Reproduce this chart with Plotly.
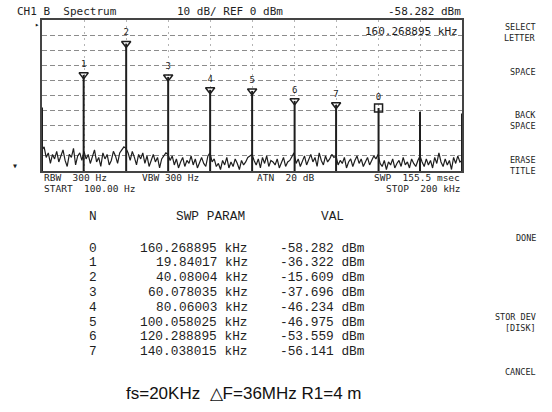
import numpy as np
import plotly.graph_objects as go

# ---- marker table (analyzer readout) ----
marker_id = [0, 1, 2, 3, 4, 5, 6, 7]
marker_khz = [160.268895, 19.84017, 40.08004, 60.078035, 80.06003,
              100.058025, 120.288895, 140.038015]
marker_dbm = [-58.282, -36.322, -15.609, -37.696, -46.234,
              -46.975, -53.559, -56.141]

# ---- unmarked spectral lines (DC, 180 kHz, 200 kHz) ----
extra_khz = [0.0, 180.0, 200.0]
extra_dbm = [-58.0, -60.7, -62.0]

# ---- noise floor of the sweep, 0..200 kHz ----
noise_dbm = [
    -86, -84, -91, -88, -95, -89, -92, -87, -94, -90, -86, -93, -97, -89, -91, -85, -96, -90, -88, -93,
    -87, -92, -89, -95, -90, -86, -94, -91, -97, -88, -92, -89, -96, -93, -87, -90, -95, -88, -86, -84,
    -85, -88, -93, -87, -91, -96, -89, -92, -88, -95, -90, -97, -93, -89, -94, -91, -98, -92, -90, -88,
    -89, -93, -90, -96, -92, -98, -94, -91, -97, -93, -95, -90, -96, -92, -98, -94, -91, -95, -97, -90,
    -88, -94, -92, -97, -95, -99, -93, -96, -91, -98, -94, -97, -92, -95, -99, -93, -96, -94, -91, -90,
    -89, -93, -96, -92, -98, -91, -95, -90, -97, -93, -94, -96, -92, -98, -95, -91, -97, -94, -93, -90,
    -88, -95, -92, -97, -94, -90, -96, -93, -89, -94, -91, -97, -88, -93, -96, -90, -94, -92, -89, -91,
    -90, -96, -93, -95, -91, -98, -94, -92, -97, -93, -90, -95, -92, -97, -94, -91, -96, -93, -90, -92,
    -89, -95, -97, -93, -99, -94, -96, -92, -98, -95, -93, -97, -91, -96, -94, -98, -92, -95, -97, -93,
    -90, -94, -97, -92, -96, -93, -98, -91, -95, -88, -94, -97, -92, -96, -93, -99, -91, -95, -90, -94, -93,
]

START_KHZ, STOP_KHZ = 0.0, 200.0
REF_DBM, BOTTOM_DBM = 0.0, -100.0

# ---- instrument annotations ----
top_left = "CH1 B  Spectrum"
top_mid = "10 dB/ REF 0 dBm"
settings_row1 = [("RBW  300 Hz", 42), ("VBW 300 Hz", 140), ("ATN  20 dB", 255), ("SWP  155.5 msec", 462)]
settings_row2 = [("START  100.00 Hz", 42, "left"), ("STOP  200 kHz", 462, "right")]
softkeys = [("SELECT", 27), ("LETTER", 37.5), ("SPACE", 72), ("BACK", 115), ("SPACE", 125.5),
            ("ERASE", 160), ("TITLE", 170.5), ("DONE", 238), ("STOR DEV", 317),
            ("[DISK]", 327.5), ("CANCEL", 372)]
caption = "fs=20KHz  \u25b3F=36MHz R1=4 m"

# plot frame in page pixels
L, R, T, B = 42, 462, 20, 171
W, H = 552, 412


def px(x):
    return (x - L) / (R - L)


def py(y):
    return (B - y) / (B - T)


INK = "#1e1e1e"
MONO = "DejaVu Sans Mono"
TABLE = "Liberation Mono"

fig = go.Figure()

# noise trace
sweep_khz = np.linspace(START_KHZ, STOP_KHZ, len(noise_dbm))
fig.add_trace(go.Scatter(x=sweep_khz, y=noise_dbm, mode="lines",
                         line=dict(color=INK, width=1.2), hoverinfo="skip"))

# spectral lines drawn as stems up to their level
stem_x, stem_y = [], []
for f, v in zip(list(marker_khz) + extra_khz, list(marker_dbm) + extra_dbm):
    stem_x += [f, f, None]
    stem_y += [BOTTOM_DBM, v, None]
fig.add_trace(go.Scatter(x=stem_x, y=stem_y, mode="lines",
                         line=dict(color=INK, width=2), hoverinfo="skip"))

# marker symbols with their numbers
symbols = ["square-open" if m == 0 else "triangle-down-open" for m in marker_id]
fig.add_trace(go.Scatter(
    x=marker_khz, y=marker_dbm, mode="markers+text",
    text=[str(m) for m in marker_id], textposition="top center",
    textfont=dict(family=MONO, size=9, color=INK),
    marker=dict(symbol=symbols, size=8, color=INK, line=dict(width=1.5, color=INK)),
    hoverinfo="skip"))

ann = []


def add(text, x, y, anchor="left", size=11, family=MONO, color=INK):
    ann.append(dict(text=text, x=px(x), y=py(y), xref="paper", yref="paper",
                    xanchor=anchor, yanchor="middle", showarrow=False,
                    font=dict(family=family, size=size, color=color)))


# header line
add(top_left, 15, 12)
add(top_mid, 175, 12)
add(f"{marker_dbm[0]:.3f} dBm", 463, 12, "right")
# active marker frequency inside the graticule
add(f"{marker_khz[0]} kHz", 460, 31, "right")
# reference indicators
add("\u25b8", 37, 25, "center", size=7)
add("\u25be", 15, 165, "center", size=10)

# sweep settings below the graticule
for text, x in settings_row1:
    add(text, x, 177.5, "right" if x > 400 else "left", size=9.5)
for text, x, a in settings_row2:
    add(text, x, 188.5, a, size=9.5)

# soft keys
for text, y in softkeys:
    add(text, 538, y, "right", size=8.5)

# marker table
add("N", 93, 216, "center", size=12.8, family=TABLE)
add("SWP PARAM", 210, 216, "center", size=12.8, family=TABLE)
add("VAL", 332, 216, "center", size=12.8, family=TABLE)
for k, (m, f, v) in enumerate(zip(marker_id, marker_khz, marker_dbm)):
    yy = 248 + 14.8 * k
    add(str(m), 93, yy, "center", size=12.8, family=TABLE)
    add(f"{f} kHz", 250, yy, "right", size=12.8, family=TABLE)
    add(f"{v:.3f} dBm", 367, yy, "right", size=12.8, family=TABLE)

# caption
add(caption, 244, 393, "center", size=17, family="Liberation Sans", color="#111")

fig.update_layout(
    width=W, height=H,
    margin=dict(l=L, r=W - R, t=T, b=H - B),
    paper_bgcolor="white", plot_bgcolor="white",
    showlegend=False, annotations=ann,
    xaxis=dict(range=[START_KHZ, STOP_KHZ], dtick=20, showticklabels=False,
               showgrid=True, gridcolor="#b4b4b4", griddash="2px,4px", gridwidth=1,
               zeroline=False, showline=True, mirror=True, linecolor="#444", linewidth=1.5,
               ticks=""),
    yaxis=dict(range=[BOTTOM_DBM, REF_DBM], dtick=10, showticklabels=False,
               showgrid=True, gridcolor="#8c8c8c", griddash="5px,3px", gridwidth=1,
               zeroline=False, showline=True, mirror=True, linecolor="#444", linewidth=1.5,
               ticks=""),
)

fig.write_html("out.html")
